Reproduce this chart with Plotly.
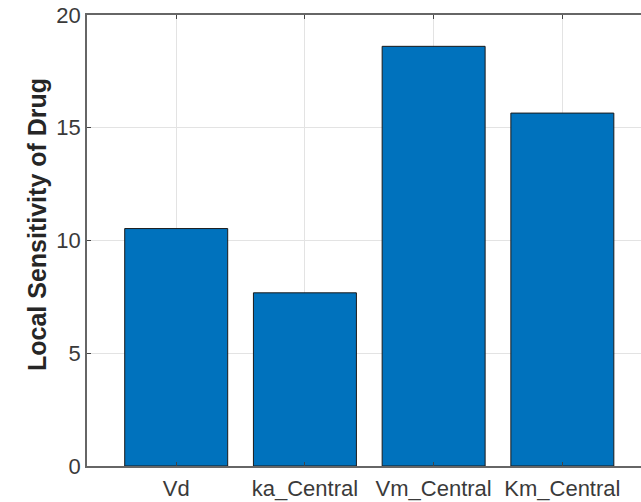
import plotly.graph_objects as go

categories = ["Vd", "ka_Central", "Vm_Central", "Km_Central"]
values = [10.53, 7.68, 18.61, 15.65]
y_ticks = [0, 5, 10, 15, 20]
y_label = "Local Sensitivity of Drug"

xpos = list(range(1, len(categories) + 1))

fig = go.Figure()
fig.add_trace(go.Bar(
    x=xpos, y=values, width=0.8,
    marker=dict(color="#0072BD", line=dict(color="#1a1a1a", width=1)),
    hoverinfo="skip",
))

font_family = "Liberation Sans, Arial, sans-serif"
plot_l, plot_t, plot_b = 87, 15, 36
W, H = 641, 502
plot_w = W - plot_l
plot_h = H - plot_t - plot_b

fig.update_layout(
    width=W, height=H,
    margin=dict(l=plot_l, r=0, t=plot_t, b=plot_b, autoexpand=False),
    paper_bgcolor="white", plot_bgcolor="white",
    showlegend=False,
    font=dict(family=font_family, size=22, color="#262626"),
    xaxis=dict(
        range=[0.307, 4.611],
        tickmode="array", tickvals=xpos, ticktext=categories,
        showgrid=True, gridcolor="#e3e3e3", gridwidth=1,
        showline=True, linecolor="#666666", linewidth=1.5, mirror="ticks",
        ticks="inside", ticklen=4, tickcolor="#444444",
        tickfont=dict(size=22, color="#3a3a3a"),
        ticklabelstandoff=2,
        zeroline=False, fixedrange=True, automargin=False,
    ),
    yaxis=dict(
        range=[0, 20],
        tickmode="array", tickvals=y_ticks, ticktext=[str(t) for t in y_ticks],
        showgrid=True, gridcolor="#e3e3e3", gridwidth=1,
        showline=True, linecolor="#666666", linewidth=1.5, mirror=False,
        ticks="inside", ticklen=4, tickcolor="#444444",
        tickfont=dict(size=22, color="#3a3a3a"),
        zeroline=False, fixedrange=True, automargin=False,
    ),
    annotations=[dict(
        text="<b>" + y_label + "</b>", textangle=-90,
        xref="paper", yref="paper",
        x=(37 - plot_l) / plot_w, y=(H - plot_b - 225) / plot_h,
        xanchor="center", yanchor="middle", showarrow=False,
        font=dict(size=25, color="#262626"),
    )],
)

fig.write_html("out.html")
